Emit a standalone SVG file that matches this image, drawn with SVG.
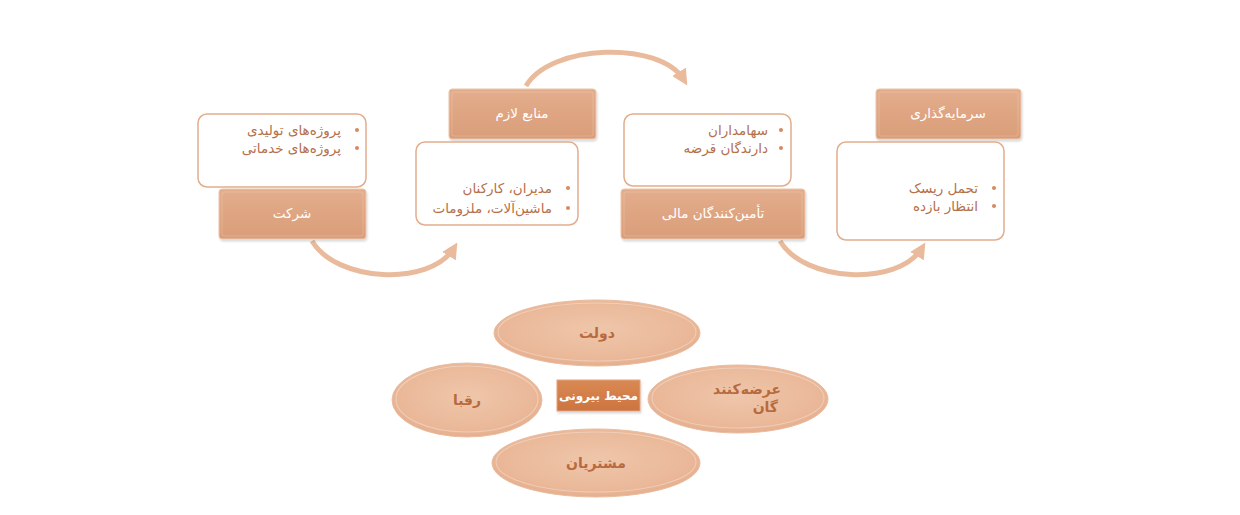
<svg xmlns="http://www.w3.org/2000/svg" width="1240" height="515" viewBox="0 0 1240 515">
<defs>
<linearGradient id="hdr" x1="0" y1="0" x2="0" y2="1">
<stop offset="0" stop-color="#e3ad8c"/>
<stop offset="0.5" stop-color="#dfa582"/>
<stop offset="1" stop-color="#d99d79"/>
</linearGradient>
<radialGradient id="ell" cx="0.5" cy="0.45" r="0.6">
<stop offset="0" stop-color="#efc6aa"/>
<stop offset="0.75" stop-color="#eab899"/>
<stop offset="1" stop-color="#e3aa87"/>
</radialGradient>
<linearGradient id="ctr" x1="0" y1="0" x2="0" y2="1">
<stop offset="0" stop-color="#da8953"/>
<stop offset="1" stop-color="#cc7440"/>
</linearGradient>
<marker id="ah" viewBox="0 0 10 10" refX="6" refY="5" markerWidth="16" markerHeight="16" markerUnits="userSpaceOnUse" orient="auto">
<path d="M0,0 L10,5 L0,10 Z" fill="#e9bb9c"/>
</marker>
<filter id="sh" x="-10%" y="-10%" width="125%" height="130%">
<feGaussianBlur in="SourceAlpha" stdDeviation="1.2"/>
<feOffset dx="1" dy="1.5" result="b"/>
<feComponentTransfer><feFuncA type="linear" slope="0.15"/></feComponentTransfer>
<feMerge><feMergeNode/><feMergeNode in="SourceGraphic"/></feMerge>
</filter>
</defs>
<style>
.box{fill:#ffffff;stroke:#e2ad8d;stroke-width:1.5}
.hdr{fill:url(#hdr);stroke:#ecc6ad;stroke-width:1}
.bev{fill:none;stroke:#ffffff;stroke-opacity:0.18;stroke-width:1}
.ht{font-family:"DejaVu Sans",sans-serif;font-size:13.5px;fill:#ffffff;text-anchor:middle}
.bt{font-family:"DejaVu Sans",sans-serif;font-size:13.5px;fill:#b5704a;text-anchor:end}
.dot{fill:#d68a5e}
.ell{fill:url(#ell);stroke:#e9bc9f;stroke-width:1}
.hl{fill:none;stroke:#ffffff;stroke-opacity:0.3;stroke-width:1.2}
.et{font-family:"DejaVu Sans",sans-serif;font-size:14px;font-weight:bold;fill:#b86a3f;text-anchor:middle}
.arc{fill:none;stroke:#e9bb9c;stroke-width:5;marker-end:url(#ah)}
</style>
<rect width="1240" height="515" fill="#ffffff"/>

<g id="connectors">
<path class="arc" d="M312,241 C336,282 430,287 454,248"/>
<path class="arc" d="M526,86 C550,44 660,40 684,80"/>
<path class="arc" d="M780,241 C804,282 898,287 922,248"/>
</g>

<g id="node-company">
<rect class="box" x="198" y="114" width="168" height="73" rx="9"/>
<circle class="dot" cx="357" cy="130" r="2"/>
<text class="bt" x="341" y="135">پروژه‌های تولیدی</text>
<circle class="dot" cx="357" cy="148" r="2"/>
<text class="bt" x="341" y="153">پروژه‌های خدماتی</text>
<g filter="url(#sh)">
<rect class="hdr" x="219" y="189" width="147" height="50" rx="3"/>
</g>
<rect class="bev" x="222" y="192" width="141" height="44" rx="2"/>
<text class="ht" x="292" y="218">شرکت</text>
</g>

<g id="node-resources">
<g filter="url(#sh)">
<rect class="hdr" x="449" y="89" width="147" height="50" rx="3"/>
</g>
<rect class="bev" x="452" y="92" width="141" height="44" rx="2"/>
<text class="ht" x="522" y="118">منابع لازم</text>
<rect class="box" x="416" y="142" width="162" height="83" rx="9"/>
<circle class="dot" cx="568" cy="188" r="2"/>
<text class="bt" x="552" y="193">مدیران، کارکنان</text>
<circle class="dot" cx="568" cy="208" r="2"/>
<text class="bt" x="552" y="213">ماشین‌آلات، ملزومات</text>
</g>

<g id="node-financiers">
<rect class="box" x="624" y="114" width="167" height="72" rx="9"/>
<circle class="dot" cx="781" cy="130" r="2"/>
<text class="bt" x="768" y="135">سهامداران</text>
<circle class="dot" cx="781" cy="148" r="2"/>
<text class="bt" x="768" y="153">دارندگان قرضه</text>
<g filter="url(#sh)">
<rect class="hdr" x="621" y="189" width="184" height="50" rx="3"/>
</g>
<rect class="bev" x="624" y="192" width="178" height="44" rx="2"/>
<text class="ht" x="713" y="218">تأمین‌کنندگان مالی</text>
</g>

<g id="node-investment">
<g filter="url(#sh)">
<rect class="hdr" x="876" y="89" width="145" height="50" rx="3"/>
</g>
<rect class="bev" x="879" y="92" width="139" height="44" rx="2"/>
<text class="ht" x="948" y="118">سرمایه‌گذاری</text>
<rect class="box" x="837" y="142" width="167" height="98" rx="9"/>
<circle class="dot" cx="994" cy="188" r="2"/>
<text class="bt" x="978" y="193">تحمل ریسک</text>
<circle class="dot" cx="994" cy="206" r="2"/>
<text class="bt" x="978" y="211">انتظار بازده</text>
</g>

<g id="node-government">
<ellipse class="ell" cx="597" cy="333" rx="103" ry="33"/>
<ellipse class="hl" cx="597" cy="332" rx="99" ry="29"/>
<text class="et" x="597" y="338">دولت</text>
</g>

<g id="node-competitors">
<ellipse class="ell" cx="467" cy="400" rx="75" ry="37"/>
<ellipse class="hl" cx="467" cy="399" rx="71" ry="33"/>
<text class="et" x="467" y="405">رقبا</text>
</g>

<g id="node-suppliers">
<ellipse class="ell" cx="738" cy="399" rx="90" ry="34"/>
<ellipse class="hl" cx="738" cy="398" rx="86" ry="30"/>
<text class="et" x="781" y="394" text-anchor="end" style="text-anchor:end">عرضه‌کنند</text>
<text class="et" x="778" y="412" style="text-anchor:end">گان</text>
</g>

<g id="node-customers">
<ellipse class="ell" cx="596" cy="463" rx="104" ry="34"/>
<ellipse class="hl" cx="596" cy="462" rx="100" ry="30"/>
<text class="et" x="596" y="468">مشتریان</text>
</g>

<g id="node-environment">
<rect x="557" y="380" width="83" height="31" fill="url(#ctr)" stroke="#e3a47c" stroke-width="1" filter="url(#sh)"/>
<text x="598.5" y="400" font-family="DejaVu Sans, sans-serif" font-size="12" font-weight="bold" fill="#ffffff" text-anchor="middle">محیط بیرونی</text>
</g>
</svg>
